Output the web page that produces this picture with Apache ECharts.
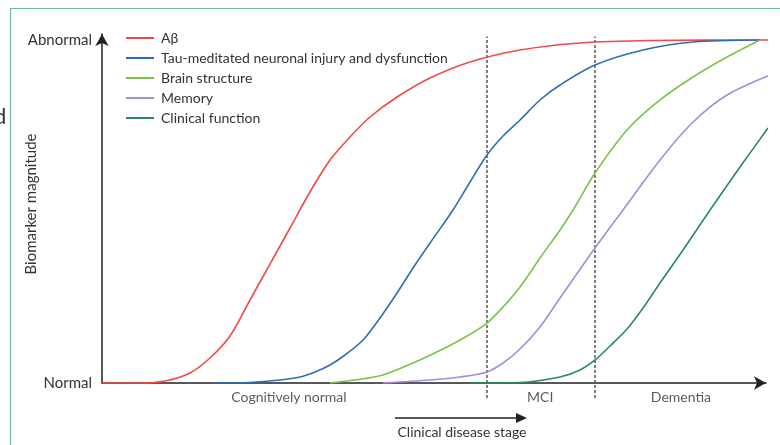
<!DOCTYPE html>
<html><head><meta charset="utf-8">
<script src="https://cdn.jsdelivr.net/npm/echarts@6/dist/echarts.min.js"></script>
<style>html,body{margin:0;padding:0;background:#fff}#c{width:780px;height:445px}</style>
</head><body><div id="c"></div>
<script>
// x: disease progression (0..100), y: biomarker magnitude (0 = Normal, 100 = Abnormal)
const abeta = [[0,0],[5.67,0],[9.40,0.58],[13.13,2.92],[16.12,7.29],[19.10,13.70],[22.09,24.20],[25.07,34.69],[28.06,45.19],[31.04,55.69],[34.03,65.01],[37.01,71.72],[40.00,77.55],[44.03,83.38],[48.96,88.92],[54.93,93.59],[62.39,97.08],[71.34,99.13],[81.79,99.85],[100.3,100]];
const tau = [[16.57,0],[22.09,0.15],[26.57,0.87],[29.55,1.75],[31.79,3.21],[34.03,5.25],[36.27,8.16],[38.96,12.54],[41.49,18.95],[44.03,26.24],[46.42,33.53],[48.96,40.82],[52.39,50.44],[54.93,58.60],[57.46,66.47],[59.85,72.01],[62.39,76.68],[65.37,82.51],[68.36,86.88],[73.58,92.71],[80.75,97.08],[88.21,99.42],[98.21,100]];
const brain = [[34.03,0],[37.76,0.87],[41.94,2.33],[46.42,5.83],[51.49,10.50],[54.48,13.70],[57.46,17.49],[59.85,22.16],[62.39,28.00],[65.37,36.44],[68.36,44.61],[70.30,50.44],[73.58,61.22],[78.36,73.76],[83.28,82.51],[88.21,89.21],[93.28,95.04],[98.21,100]];
const memory = [[41.94,0],[48.96,0.87],[53.43,1.75],[57.46,3.21],[59.85,5.83],[62.39,9.90],[65.37,16.33],[68.36,24.78],[73.58,39.36],[77.76,50.44],[83.28,65.01],[88.21,76.09],[93.28,83.97],[99.70,89.80]];
const clinical = [[54.93,0],[62.39,0.15],[68.36,1.75],[71.34,3.79],[73.58,6.71],[75.82,10.79],[78.36,15.74],[80.75,21.87],[83.28,29.15],[86.72,38.78],[90.75,50.44],[95.22,62.97],[99.40,74.34]];
const seriesNames = ['A\u03b2','Tau-meditated neuronal injury and dysfunction','Brain structure','Memory','Clinical function'];
const seriesColors = ['#f04a4a','#2f6db5','#7cc24a','#a88bd6','#2b8a5a'];
const stageBoundaries = [57.46, 73.58];
const stageLabels = ['Cognitively normal','MCI','Dementia'];
const stageCenters = [27.9, 65.4, 86.4];
const yLabels = {0:'Normal',100:'Abnormal'};
const yTitle = 'Biomarker magnitude';
const xTitle = 'Clinical disease stage';

const FONT = 'Lato';
const chart = echarts.init(document.getElementById('c'), null, {renderer:'canvas'});
const curves = [abeta, tau, brain, memory, clinical];
const series = curves.map((d,i)=>({
  name: seriesNames[i], type:'line', data:d, symbol:'none', smooth:0.3, clip:false,
  lineStyle:{color:seriesColors[i], width:1.6}, itemStyle:{color:seriesColors[i]}, z:3
}));
stageBoundaries.forEach(b=>{
  series.push({type:'line', data:[[b,-4.4],[b,101]], symbol:'none', clip:false, silent:true,
    lineStyle:{color:'#555', width:1.5, type:[3,2]}, z:2});
});
series.push({type:'scatter', symbolSize:1, clip:false, itemStyle:{color:'transparent'},
  data: stageCenters.map((x,i)=>({value:[x,-4.1], name:stageLabels[i]})),
  label:{show:true, position:'inside', formatter:p=>p.name, color:'#333', fontSize:14, fontFamily:FONT}});

chart.setOption({
  animation:false,
  grid:{left:102, right:14, top:34, bottom:62},
  legend:{data:seriesNames, orient:'vertical', left:125, top:31, padding:0, itemWidth:28, itemHeight:14, itemGap:6,
    itemStyle:{opacity:0},
    textStyle:{color:'#333', fontSize:14, fontFamily:FONT, padding:[0,0,0,2]}},
  xAxis:{type:'value', min:0, max:99.1, axisLine:{show:true, symbol:['none','arrow'], symbolSize:[10,12], lineStyle:{color:'#222', width:1.5}},
    axisTick:{show:false}, axisLabel:{show:false}, splitLine:{show:false}},
  yAxis:{type:'value', min:0, max:101.75, interval:100,
    axisLine:{show:true, symbol:['none','arrow'], symbolSize:[10,12], lineStyle:{color:'#222', width:1.5}},
    axisTick:{show:false}, splitLine:{show:false},
    axisLabel:{color:'#333', fontSize:15, fontFamily:FONT, margin:10, formatter:v=>yLabels[v]||''}},
  series:series,
  graphic:[
    {type:'rect', shape:{x:10.5, y:8.5, width:800, height:500}, style:{fill:null, stroke:'#6dbb9b', lineWidth:1.2}, silent:true},
    {type:'text', x:-6, y:106, style:{text:'d', fontSize:22, fontFamily:FONT, fill:'#333'}},
    {type:'text', x:31, y:204, rotation:Math.PI/2, style:{text:yTitle, fontSize:15, fontFamily:FONT, fill:'#333', align:'center', verticalAlign:'middle'}},
    {type:'line', shape:{x1:395, y1:418, x2:518, y2:418}, style:{stroke:'#222', lineWidth:1.5}},
    {type:'polygon', shape:{points:[[516,413],[527,418],[516,423]]}, style:{fill:'#222'}},
    {type:'text', x:462, y:432, style:{text:xTitle, fontSize:14, fontFamily:FONT, fill:'#333', align:'center', verticalAlign:'middle'}}
  ]
});
</script></body></html>
